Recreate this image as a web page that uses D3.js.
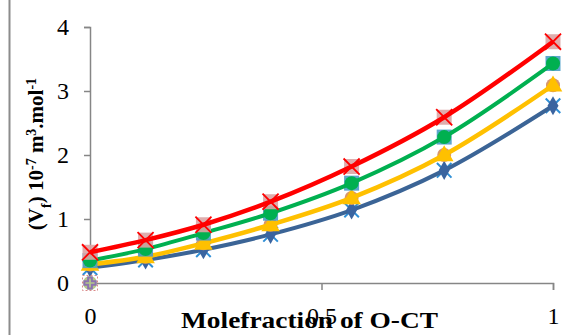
<!DOCTYPE html>
<html>
<head>
<meta charset="utf-8">
<script src="https://cdn.jsdelivr.net/npm/d3@7"></script>
<style>
  body { margin: 0; background: #fff; }
  svg, svg text { font-family: "Liberation Serif", "Times New Roman", "DejaVu Serif", serif !important; }
</style>
</head>
<body>
<div id="chart"></div>
<script>
// data
var moleFraction = [0, 0.12, 0.245, 0.39, 0.565, 0.765, 1];
var seriesRed    = [0.48, 0.67, 0.91, 1.27, 1.82, 2.59, 3.77];
var seriesGreen  = [0.35, 0.53, 0.78, 1.09, 1.56, 2.28, 3.43];
var seriesYellow = [0.29, 0.41, 0.62, 0.91, 1.33, 2.00, 3.09];
var seriesBlue   = [0.24, 0.36, 0.52, 0.76, 1.14, 1.76, 2.77];
var zeroPoint    = [0];
var xTicks = [0, 0.5, 1];
var yTicks = [0, 1, 2, 3, 4];

var width = 584, height = 335;
var margin = {left: 90, right: 31, top: 27, bottom: 52};
var w = width - margin.left - margin.right,
    h = height - margin.top - margin.bottom;

var svg = d3.select("#chart")
  .append("svg")
    .attr("width", width)
    .attr("height", height);

// outer frame (only left edge visible)
svg.append("line")
  .attr("x1", 9.5).attr("x2", 9.5)
  .attr("y1", 0).attr("y2", height)
  .attr("stroke", "#8c8c8c")
  .attr("stroke-width", 2);

var canvas = svg.append("g")
  .attr("transform", "translate(" + margin.left + "," + margin.top + ")");

var x = d3.scaleLinear().domain([0, 1]).range([0, w]);
var y = d3.scaleLinear().domain([0, 4]).range([h, 0]);

// axes
var xAxis = canvas.append("g")
  .attr("transform", "translate(0," + h + ")")
  .call(d3.axisBottom(x).tickValues(xTicks).tickSize(7).tickPadding(10)
    .tickFormat(function(d){ return String(d) }));
var yAxis = canvas.append("g")
  .call(d3.axisLeft(y).tickValues(yTicks).tickSize(6).tickPadding(15)
    .tickFormat(function(d){ return String(d) }));

[xAxis, yAxis].forEach(function(a){
  a.attr("font-family", null).attr("font-size", null);
  a.select(".domain").attr("stroke", "#868686").attr("stroke-width", 1.5);
  a.selectAll(".tick line").attr("stroke", "#868686").attr("stroke-width", 1.5);
  a.selectAll(".tick text")
    .attr("fill", "#000")
    .style("font-size", "24px");
});
yAxis.selectAll(".tick text").attr("dy", "0.33em");
xAxis.selectAll(".tick text").attr("y", 41).attr("dy", 0);

// axis titles
canvas.append("text")
  .attr("x", 219.5)
  .attr("y", h + 45)
  .attr("text-anchor", "middle")
  .attr("textLength", 257)
  .attr("lengthAdjust", "spacingAndGlyphs")
  .style("font-size", "23px")
  .style("font-weight", "bold")
  .text("Molefraction of O-CT");

var yTitle = svg.append("text")
  .attr("transform", "translate(43,154) rotate(-90)")
  .attr("text-anchor", "middle")
  .style("font-size", "21px")
  .style("font-weight", "bold");
yTitle.append("tspan").text("(V");
yTitle.append("tspan").attr("baseline-shift", "sub").style("font-size", "14px").text("f");
yTitle.append("tspan").text(") 10");
yTitle.append("tspan").attr("baseline-shift", "super").style("font-size", "14px").text("-7");
yTitle.append("tspan").text(" m");
yTitle.append("tspan").attr("baseline-shift", "super").style("font-size", "14px").text("3");
yTitle.append("tspan").text(".mol");
yTitle.append("tspan").attr("baseline-shift", "super").style("font-size", "14px").text("-1");

// series
var series = [
  {values: seriesBlue,   line: "#3b6496", width: 4,   back: "star",     backColor: "#2f8fd6", front: "diamond",  frontColor: "#3a64a0"},
  {values: seriesYellow, line: "#ffc000", width: 4.5, back: "circle",   backColor: "#d9976a", front: "triangle", frontColor: "#ffc000"},
  {values: seriesGreen,  line: "#00b050", width: 4,   back: "square",   backColor: "#4a9cc7", front: "circle",   frontColor: "#00b050"},
  {values: seriesRed,    line: "#ff0000", width: 4.5, back: "square",   backColor: "#dba4a4", front: "cross",    frontColor: "#ff0000"}
];

var line = d3.line()
  .x(function(d){ return x(d[0]) })
  .y(function(d){ return y(d[1]) })
  .curve(d3.curveCatmullRom.alpha(0.5));

function drawMarker(g, kind, color, px, py) {
  if (kind == "square") {
    g.append("rect").attr("x", px - 7.5).attr("y", py - 7.5).attr("width", 15).attr("height", 15)
      .attr("fill", color).attr("opacity", 0.9);
  } else if (kind == "circle") {
    g.append("circle").attr("cx", px).attr("cy", py).attr("r", 7).attr("fill", color);
  } else if (kind == "triangle") {
    g.append("path").attr("d", d3.symbol(d3.symbolTriangle, 150)()).attr("transform", "translate(" + px + "," + (py + 1) + ")")
      .attr("fill", color);
  } else if (kind == "diamond") {
    g.append("path").attr("d", d3.symbol(d3.symbolDiamond, 105)()).attr("transform", "translate(" + px + "," + py + ")")
      .attr("fill", color);
  } else if (kind == "star") {
    g.append("path").attr("d", d3.symbol(d3.symbolTimes, 140)()).attr("transform", "translate(" + px + "," + py + ")")
      .attr("stroke", color).attr("stroke-width", 2).attr("fill", "none");
  } else if (kind == "cross") {
    g.append("path").attr("d", d3.symbol(d3.symbolX, 170)()).attr("transform", "translate(" + px + "," + py + ")")
      .attr("stroke", color).attr("stroke-width", 1.8).attr("fill", "none");
  }
}

series.forEach(function(s){
  var pts = moleFraction.map(function(m, i){ return [m, s.values[i]] });
  var g = canvas.append("g");
  pts.forEach(function(p){ drawMarker(g, s.back, s.backColor, x(p[0]), y(p[1])) });
  g.append("path")
    .datum(pts)
    .attr("d", line)
    .attr("fill", "none")
    .attr("stroke", s.line)
    .attr("stroke-width", s.width);
  pts.forEach(function(p){ drawMarker(g, s.front, s.frontColor, x(p[0]), y(p[1])) });
});

// extra single-point series at the origin
var zg = canvas.append("g");
zeroPoint.forEach(function(v){
  zg.append("rect").attr("x", x(0) - 7.5).attr("y", y(v) - 7.5).attr("width", 15).attr("height", 15)
    .attr("fill", "none").attr("stroke", "#d98a8a").attr("stroke-dasharray", "2,2");
  zg.append("circle").attr("cx", x(0)).attr("cy", y(v)).attr("r", 7).attr("fill", "#b3c98a");
  zg.append("path").attr("d", d3.symbol(d3.symbolCross, 70)()).attr("transform", "translate(" + x(0) + "," + y(v) + ")")
    .attr("fill", "none").attr("stroke", "#8d73b0").attr("stroke-width", 2);
});
</script>
</body>
</html>
